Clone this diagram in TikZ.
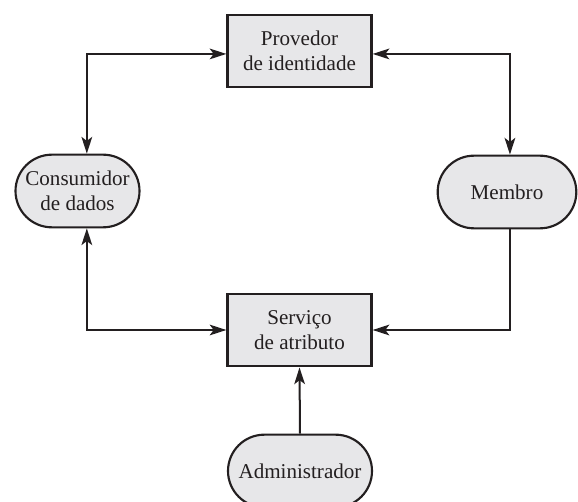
\documentclass[tikz,border=0pt]{standalone}
\usepackage{fontspec}
\setmainfont{Liberation Serif}
\usetikzlibrary{arrows.meta,shapes.misc}
\definecolor{boxfill}{RGB}{231,231,233}
\definecolor{inkcol}{RGB}{35,31,32}

\begin{document}
\begin{tikzpicture}[x=0.75pt,y=-0.75pt,
  every node/.style={font=\fontsize{15.8pt}{18.8pt}\selectfont,align=center,text=inkcol},
  svc/.style={rectangle,draw=inkcol,fill=boxfill,line width=1.7pt,minimum width=108pt,minimum height=54.5pt,inner sep=0pt},
  party/.style={rounded rectangle,draw=inkcol,fill=boxfill,line width=1.6pt,minimum height=54.5pt,inner sep=0pt},
  link/.style={draw=inkcol,line width=1.5pt,arrows={-Stealth[length=12.5pt,width=8pt,inset=3pt]}},
  both/.style={link,arrows={Stealth[length=12.5pt,width=8pt,inset=3pt]-Stealth[length=12.5pt,width=8pt,inset=3pt]}}]
  \clip (0,0) rectangle (578,502);
  \node[svc]   (prov)  at (299.5,51)  {Provedor\\de identidade};
  \node[svc]   (serv)  at (299.5,330) {Serviço\\de atributo};
  \node[party,minimum width=93pt]  (cons)  at (77.5,191) {Consumidor\\de dados};
  \node[party,minimum width=104pt] (memb)  at (507,192)  {Membro};
  \node[party,minimum width=108pt] (admin) at (300,471)  {Administrador};
  % arrows round the ring, then the one from below
  \draw[both] ([xshift=7pt]cons.north) |- ([yshift=-2.2pt]prov.west);
  \draw[both] ([xshift=2.2pt]memb.north) |- ([yshift=-2.2pt]prov.east);
  \draw[both] ([xshift=7pt]cons.south) |- (serv.west);
  \draw[link] ([xshift=2.2pt]memb.south) |- (serv.east);
  \draw[link] (admin.north) -- (serv.south);
\end{tikzpicture}
\end{document}
